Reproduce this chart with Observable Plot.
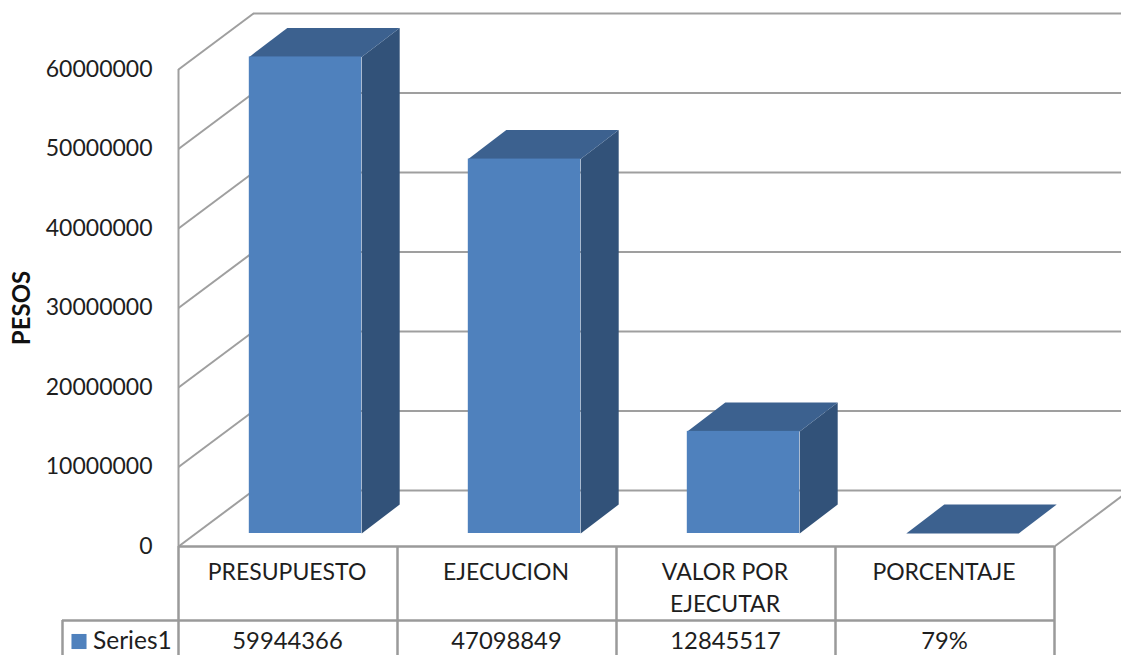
<!DOCTYPE html>
<html>
<head>
<meta charset="utf-8">
<script src="https://cdn.jsdelivr.net/npm/d3@7"></script>
<script src="https://cdn.jsdelivr.net/npm/@observablehq/plot@0.6"></script>
<style>
html,body{margin:0;padding:0;background:#fff;overflow:hidden}
svg{display:block}
</style>
</head>
<body>
<div id="chart"></div>
<script>
const categories = ["PRESUPUESTO", "EJECUCION", "VALOR POR\nEJECUTAR", "PORCENTAJE"];
const seriesValues = [59944366, 47098849, 12845517, 0.79];
const tableLabels = ["59944366", "47098849", "12845517", "79%"];
const yTicks = [0, 10000000, 20000000, 30000000, 40000000, 50000000, 60000000];
const columnEdges = [0, 1, 2, 3, 4];
const seriesName = "Series1";

// pixel sizes of the fake 3D projection, turned into data units for the scales
const W = 1121, H = 655, mL = 178, mR = 67, mT = 69, mB = 109;
const ux = 4 / (W - mL - mR);
const uy = 60000000 / (H - mT - mB);
const wallX = 75 * ux, wallY = 56 * uy;
const barDX = 38 * ux, barDY = 29 * uy;
const halfBar = 56.2 * ux;
const tableRow = -74 * uy, tableEnd = -115 * uy, tableValue = -95 * uy;
const tableLeft = -116 * ux;

const grid = {stroke: "#9f9f9f", strokeWidth: 2};
const tableGrid = {stroke: "#9a9a9a", strokeWidth: 2.5};
const font = "Lato, 'Open Sans', sans-serif";
const textFill = "#1e1e1e";
const blue = "#4f81bd", blueTop = "#3c618f", blueSide = "#325279";
const barShift = {dx: 17.5, dy: -13};

const rows = seriesValues.map((v, i) => ({i, v, l: i + 0.5 - halfBar, r: i + 0.5 + halfBar}));
const tops = rows.flatMap(d => [
  {z: d.i, x: d.l, y: d.v},
  {z: d.i, x: d.r, y: d.v},
  {z: d.i, x: d.r + barDX, y: d.v + barDY},
  {z: d.i, x: d.l + barDX, y: d.v + barDY}
]);
const sides = rows.filter(d => d.v > 1).flatMap(d => [
  {z: d.i, x: d.r, y: 0},
  {z: d.i, x: d.r + barDX, y: barDY},
  {z: d.i, x: d.r + barDX, y: d.v + barDY},
  {z: d.i, x: d.r, y: d.v}
]);

const chart = Plot.plot({
  width: W, height: H,
  marginLeft: mL, marginRight: mR, marginTop: mT, marginBottom: mB,
  style: {background: "#fff", fontFamily: font},
  x: {domain: [0, 4], axis: null},
  y: {domain: [0, 60000000], axis: null},
  marks: [
    // back wall and floor gridlines
    Plot.ruleY(yTicks, {x1: 0, x2: 4, dx: 75, dy: -56, ...grid}),
    Plot.link(yTicks, {x1: 0, y1: d => d, x2: wallX, y2: d => d + wallY, ...grid}),
    Plot.link([0], {x1: 4, y1: 0, x2: 4 + wallX, y2: wallY, ...grid}),
    Plot.ruleX([0], {y1: 0, y2: 60000000, ...grid}),
    // bars
    Plot.line(sides, {x: "x", y: "y", z: "z", fill: blueSide, stroke: "none", ...barShift}),
    Plot.line(tops, {x: "x", y: "y", z: "z", fill: blueTop, stroke: "none", ...barShift}),
    Plot.rect(rows.filter(d => d.v > 1), {x1: "l", x2: "r", y1: 0, y2: "v", fill: blue, ...barShift}),
    // value axis
    Plot.axisY(yTicks, {
      anchor: "left", tickSize: 0, tickPadding: 26, label: null,
      tickFormat: d => String(d), fontSize: 23, fill: textFill, fontFamily: font
    }),
    Plot.text(["PESOS"], {
      frameAnchor: "left", textAnchor: "middle", y: 30000000, dx: -156, rotate: -90, text: d => d,
      fontSize: 24, fontWeight: "bold", fill: "#111", fontFamily: font
    }),
    // data table
    Plot.ruleY([0], {x1: 0, x2: 4, ...tableGrid}),
    Plot.ruleY([tableRow], {x1: tableLeft, x2: 4, ...tableGrid}),
    Plot.ruleX(columnEdges, {y1: 0, y2: tableEnd, ...tableGrid}),
    Plot.ruleX([tableLeft], {y1: tableRow, y2: tableEnd, ...tableGrid}),
    Plot.text(categories, {
      x: (d, i) => i + 0.5, y: 0, dy: 11, dx: -1, text: d => d, lineAnchor: "top", lineHeight: 1.39,
      fontSize: 23, fill: textFill, fontFamily: font
    }),
    Plot.text(tableLabels, {
      x: (d, i) => i + 0.5, y: tableValue, dx: -0.5, text: d => d,
      fontSize: 23.8, fill: textFill, fontFamily: font
    }),
    Plot.dot([seriesName], {
      x: tableLeft + 16.5 * ux, y: tableValue, symbol: "square", r: 8.5, fill: blue, stroke: "none"
    }),
    Plot.text([seriesName], {
      x: tableLeft + 30.5 * ux, y: tableValue, text: d => d, textAnchor: "start",
      fontSize: 24.5, fill: textFill, fontFamily: font
    })
  ]
});
document.getElementById("chart").appendChild(chart);
</script>
</body>
</html>
